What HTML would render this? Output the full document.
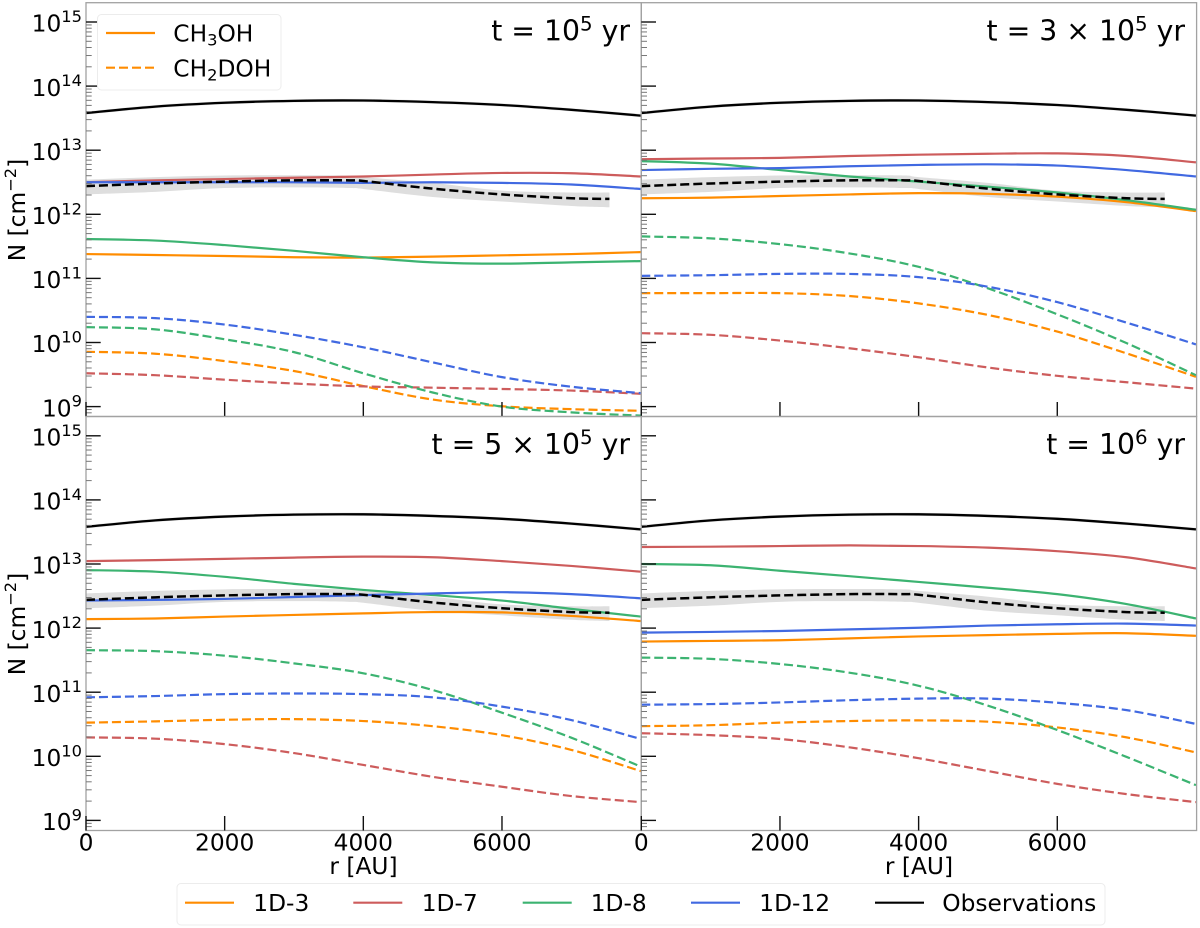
<!DOCTYPE html>
<html lang="en">
<head>
<meta charset="utf-8">
<title>Methanol column density profiles</title>
<style>
html,body{margin:0;padding:0;background:#fff;}
#chart{display:block;width:1200px;height:928px;font-family:"DejaVu Sans","Liberation Sans",sans-serif;fill:#000;filter:blur(0.35px);}
text{font-family:"DejaVu Sans","Liberation Sans",sans-serif;}
</style>
</head>
<body>
<svg id="chart" xmlns="http://www.w3.org/2000/svg" width="1200" height="928" viewBox="0 0 1200 928">
  <defs>
    <clipPath id="clip-a"><rect x="86" y="2.7" width="555.3" height="413.8"/></clipPath>
    <clipPath id="clip-b"><rect x="641.3" y="2.7" width="555.3" height="413.8"/></clipPath>
    <clipPath id="clip-c"><rect x="86" y="416.5" width="555.3" height="414"/></clipPath>
    <clipPath id="clip-d"><rect x="641.3" y="416.5" width="555.3" height="414"/></clipPath>
  </defs>
  <g id="panels"></g>

  <text transform="translate(25,210) rotate(-90)" text-anchor="middle" font-size="23.3">N [cm<tspan dy="-9" font-size="16.3">−2</tspan><tspan dy="9">]</tspan></text>
  <text transform="translate(25,624) rotate(-90)" text-anchor="middle" font-size="23.3">N [cm<tspan dy="-9" font-size="16.3">−2</tspan><tspan dy="9">]</tspan></text>
  <text x="363.5" y="874" text-anchor="middle" font-size="23.3">r [AU]</text>
  <text x="919" y="874" text-anchor="middle" font-size="23.3">r [AU]</text>

  <text x="630" y="40.7" text-anchor="end" font-size="28.3">t = 10<tspan dy="-10" font-size="19.8">5</tspan><tspan dy="10"> yr</tspan></text>
  <text x="1185" y="40.7" text-anchor="end" font-size="28.3">t = 3 × 10<tspan dy="-10" font-size="19.8">5</tspan><tspan dy="10"> yr</tspan></text>
  <text x="630" y="454" text-anchor="end" font-size="28.3">t = 5 × 10<tspan dy="-10" font-size="19.8">5</tspan><tspan dy="10"> yr</tspan></text>
  <text x="1185" y="454" text-anchor="end" font-size="28.3">t = 10<tspan dy="-10" font-size="19.8">6</tspan><tspan dy="10"> yr</tspan></text>

  <g>
    <rect x="97.5" y="14.5" width="183.5" height="75.5" rx="4" fill="#fff" stroke="#ececec" stroke-width="1"/>
    <line x1="106" y1="33" x2="155" y2="33" stroke="#FF8C00" stroke-width="2.2"/>
    <text x="173.3" y="41.7" font-size="23.3">CH<tspan dy="4" font-size="16.3">3</tspan><tspan dy="-4">OH</tspan></text>
    <line x1="106" y1="67.7" x2="155" y2="67.7" stroke="#FF8C00" stroke-width="2.2" stroke-dasharray="9 4"/>
    <text x="173.3" y="76.7" font-size="23.3">CH<tspan dy="4" font-size="16.3">2</tspan><tspan dy="-4">DOH</tspan></text>
  </g>

  <g>
    <rect x="177" y="883.5" width="928" height="41.5" rx="4" fill="#fff" stroke="#ececec" stroke-width="1"/>
    <line x1="185" y1="902.7" x2="234" y2="902.7" stroke="#FF8C00" stroke-width="2.2"/>
    <text x="253.3" y="911" font-size="23.3">1D-3</text>
    <line x1="353.3" y1="902.7" x2="402.3" y2="902.7" stroke="#CD5C5C" stroke-width="2.2"/>
    <text x="421.7" y="911" font-size="23.3">1D-7</text>
    <line x1="522.7" y1="902.7" x2="571.7" y2="902.7" stroke="#3CB371" stroke-width="2.2"/>
    <text x="590.7" y="911" font-size="23.3">1D-8</text>
    <line x1="691" y1="902.7" x2="740" y2="902.7" stroke="#4169E1" stroke-width="2.2"/>
    <text x="759.3" y="911" font-size="23.3">1D-12</text>
    <line x1="875" y1="902.7" x2="924" y2="902.7" stroke="#000" stroke-width="2.2"/>
    <text x="942.3" y="911" font-size="23.3">Observations</text>
  </g>
</svg>

<script>
// Radial sample positions (AU)
const radiusAU = [0, 1000, 2000, 3000, 4000, 5000, 6000, 7000, 8000];
const obsRadiusAU = [0, 1000, 2000, 3000, 3800, 4000, 5000, 6000, 7000, 7550];

// Axis ticks
const xTickValues = [0, 2000, 4000, 6000];
const yDecades = [9, 10, 11, 12, 13, 14, 15];
const yMinorMultipliers = [2, 3, 4, 5, 6, 7, 8, 9];

// Observations, log10 N
const obsCH3OH = [13.58, 13.68, 13.74, 13.77, 13.775, 13.75, 13.705, 13.63, 13.54];
const obsCH3OHUpper = [13.605, 13.705, 13.765, 13.795, 13.8, 13.775, 13.73, 13.655, 13.565];
const obsCH3OHLower = [13.555, 13.655, 13.715, 13.745, 13.75, 13.725, 13.68, 13.605, 13.515];
const obsCH2DOH = [12.44, 12.48, 12.51, 12.53, 12.53, 12.52, 12.40, 12.31, 12.25, 12.24];
const obsCH2DOHUpper = [12.54, 12.58, 12.605, 12.61, 12.605, 12.58, 12.49, 12.37, 12.34, 12.34];
const obsCH2DOHLower = [12.31, 12.35, 12.41, 12.42, 12.41, 12.395, 12.27, 12.20, 12.13, 12.11];

// t = 1e5 yr, log10 N
const t1e5CH3OH1D3 = [11.38, 11.365, 11.35, 11.33, 11.325, 11.34, 11.36, 11.38, 11.41];
const t1e5CH3OH1D7 = [12.50, 12.53, 12.55, 12.57, 12.59, 12.62, 12.645, 12.64, 12.59];
const t1e5CH3OH1D8 = [11.615, 11.59, 11.52, 11.43, 11.33, 11.25, 11.23, 11.25, 11.27];
const t1e5CH3OH1D12 = [12.50, 12.50, 12.50, 12.50, 12.49, 12.50, 12.49, 12.465, 12.395];
const t1e5CH2DOH1D3 = [9.855, 9.825, 9.71, 9.555, 9.32, 9.11, 9.005, 8.96, 8.935];
const t1e5CH2DOH1D7 = [9.52, 9.49, 9.42, 9.36, 9.315, 9.295, 9.275, 9.25, 9.20];
const t1e5CH2DOH1D8 = [10.24, 10.205, 10.05, 9.85, 9.52, 9.22, 9.00, 8.91, 8.86];
const t1e5CH2DOH1D12 = [10.40, 10.38, 10.28, 10.12, 9.925, 9.69, 9.46, 9.31, 9.21];

// t = 3e5 yr, log10 N
const t3e5CH3OH1D3 = [12.25, 12.26, 12.285, 12.31, 12.33, 12.32, 12.275, 12.19, 12.05];
const t3e5CH3OH1D7 = [12.86, 12.87, 12.88, 12.91, 12.93, 12.945, 12.95, 12.91, 12.81];
const t3e5CH3OH1D8 = [12.83, 12.79, 12.69, 12.59, 12.51, 12.43, 12.34, 12.22, 12.07];
const t3e5CH3OH1D12 = [12.69, 12.71, 12.72, 12.75, 12.77, 12.78, 12.76, 12.69, 12.59];
const t3e5CH2DOH1D3 = [10.77, 10.77, 10.77, 10.725, 10.61, 10.43, 10.17, 9.83, 9.465];
const t3e5CH2DOH1D7 = [10.145, 10.12, 10.03, 9.91, 9.77, 9.61, 9.48, 9.38, 9.28];
const t3e5CH2DOH1D8 = [11.655, 11.625, 11.535, 11.39, 11.18, 10.845, 10.44, 9.99, 9.49];
const t3e5CH2DOH1D12 = [11.04, 11.05, 11.07, 11.07, 11.02, 10.87, 10.63, 10.31, 9.97];

// t = 5e5 yr, log10 N
const t5e5CH3OH1D3 = [12.14, 12.15, 12.18, 12.205, 12.23, 12.25, 12.245, 12.19, 12.11];
const t5e5CH3OH1D7 = [13.045, 13.06, 13.08, 13.10, 13.115, 13.105, 13.045, 12.97, 12.88];
const t5e5CH3OH1D8 = [12.905, 12.88, 12.80, 12.69, 12.595, 12.515, 12.43, 12.30, 12.18];
const t5e5CH3OH1D12 = [12.43, 12.44, 12.455, 12.485, 12.515, 12.54, 12.56, 12.53, 12.465];
const t5e5CH2DOH1D3 = [10.525, 10.545, 10.57, 10.58, 10.55, 10.47, 10.33, 10.10, 9.77];
const t5e5CH2DOH1D7 = [10.295, 10.275, 10.19, 10.05, 9.865, 9.68, 9.525, 9.38, 9.285];
const t5e5CH2DOH1D8 = [11.655, 11.64, 11.57, 11.45, 11.295, 11.035, 10.68, 10.29, 9.84];
const t5e5CH2DOH1D12 = [10.92, 10.94, 10.97, 10.98, 10.97, 10.92, 10.775, 10.565, 10.27];

// t = 1e6 yr, log10 N
const t1e6CH3OH1D3 = [11.79, 11.80, 11.81, 11.84, 11.87, 11.89, 11.91, 11.92, 11.88];
const t1e6CH3OH1D7 = [13.265, 13.27, 13.28, 13.29, 13.28, 13.255, 13.20, 13.105, 12.93];
const t1e6CH3OH1D8 = [13.00, 12.98, 12.895, 12.81, 12.72, 12.63, 12.53, 12.375, 12.15];
const t1e6CH3OH1D12 = [11.93, 11.94, 11.955, 11.98, 12.005, 12.04, 12.06, 12.07, 12.04];
const t1e6CH2DOH1D3 = [10.47, 10.485, 10.525, 10.55, 10.56, 10.54, 10.45, 10.295, 10.06];
const t1e6CH2DOH1D7 = [10.36, 10.33, 10.27, 10.14, 9.97, 9.77, 9.57, 9.41, 9.285];
const t1e6CH2DOH1D8 = [11.54, 11.52, 11.44, 11.305, 11.10, 10.79, 10.41, 9.99, 9.55];
const t1e6CH2DOH1D12 = [10.805, 10.815, 10.84, 10.875, 10.90, 10.90, 10.835, 10.72, 10.505];

const modelColors = { '1d-3': '#FF8C00', '1d-7': '#CD5C5C', '1d-8': '#3CB371', '1d-12': '#4169E1' };

const panelSeries = [
  { id: 'a', left: 86, decade15: 22, top: 2.7, bottom: 416.5, showXLabels: false, showYLabels: true,
    solid: { '1d-3': t1e5CH3OH1D3, '1d-7': t1e5CH3OH1D7, '1d-8': t1e5CH3OH1D8, '1d-12': t1e5CH3OH1D12 },
    dashed: { '1d-3': t1e5CH2DOH1D3, '1d-7': t1e5CH2DOH1D7, '1d-8': t1e5CH2DOH1D8, '1d-12': t1e5CH2DOH1D12 } },
  { id: 'b', left: 641.3, decade15: 22, top: 2.7, bottom: 416.5, showXLabels: false, showYLabels: false,
    solid: { '1d-3': t3e5CH3OH1D3, '1d-7': t3e5CH3OH1D7, '1d-8': t3e5CH3OH1D8, '1d-12': t3e5CH3OH1D12 },
    dashed: { '1d-3': t3e5CH2DOH1D3, '1d-7': t3e5CH2DOH1D7, '1d-8': t3e5CH2DOH1D8, '1d-12': t3e5CH2DOH1D12 } },
  { id: 'c', left: 86, decade15: 435.8, top: 416.5, bottom: 830.5, showXLabels: true, showYLabels: true,
    solid: { '1d-3': t5e5CH3OH1D3, '1d-7': t5e5CH3OH1D7, '1d-8': t5e5CH3OH1D8, '1d-12': t5e5CH3OH1D12 },
    dashed: { '1d-3': t5e5CH2DOH1D3, '1d-7': t5e5CH2DOH1D7, '1d-8': t5e5CH2DOH1D8, '1d-12': t5e5CH2DOH1D12 } },
  { id: 'd', left: 641.3, decade15: 435.8, top: 416.5, bottom: 830.5, showXLabels: true, showYLabels: false,
    solid: { '1d-3': t1e6CH3OH1D3, '1d-7': t1e6CH3OH1D7, '1d-8': t1e6CH3OH1D8, '1d-12': t1e6CH3OH1D12 },
    dashed: { '1d-3': t1e6CH2DOH1D3, '1d-7': t1e6CH2DOH1D7, '1d-8': t1e6CH2DOH1D8, '1d-12': t1e6CH2DOH1D12 } }
];

const SVGNS = 'http://www.w3.org/2000/svg';
const PX_PER_AU = 0.06933;
const PX_PER_DECADE = 64.1;
const PANEL_WIDTH = 555.3;

function xScale(panel, r) { return panel.left + r * PX_PER_AU; }
function yScale(panel, logN) { return panel.decade15 + (15 - logN) * PX_PER_DECADE; }

function toPoints(panel, radii, values) {
  return radii.map(function (r, i) { return [xScale(panel, r), yScale(panel, values[i])]; });
}

function smoothSegments(pts) {
  let d = '';
  for (let i = 0; i < pts.length - 1; i++) {
    const p0 = pts[Math.max(i - 1, 0)], p1 = pts[i], p2 = pts[i + 1], p3 = pts[Math.min(i + 2, pts.length - 1)];
    const c1x = p1[0] + (p2[0] - p0[0]) / 6, c1y = p1[1] + (p2[1] - p0[1]) / 6;
    const c2x = p2[0] - (p3[0] - p1[0]) / 6, c2y = p2[1] - (p3[1] - p1[1]) / 6;
    d += ' C' + c1x.toFixed(2) + ' ' + c1y.toFixed(2) + ' ' + c2x.toFixed(2) + ' ' + c2y.toFixed(2) + ' ' + p2[0].toFixed(2) + ' ' + p2[1].toFixed(2);
  }
  return d;
}

function linePath(pts) {
  return 'M' + pts[0][0].toFixed(2) + ' ' + pts[0][1].toFixed(2) + smoothSegments(pts);
}

function bandPath(upperPts, lowerPts) {
  const rev = lowerPts.slice().reverse();
  return linePath(upperPts) + ' L' + rev[0][0].toFixed(2) + ' ' + rev[0][1].toFixed(2) + smoothSegments(rev) + ' Z';
}

function addLine(parent, x1, y1, x2, y2, stroke, width) {
  const el = document.createElementNS(SVGNS, 'line');
  el.setAttribute('x1', x1);
  el.setAttribute('y1', y1);
  el.setAttribute('x2', x2);
  el.setAttribute('y2', y2);
  el.setAttribute('stroke', stroke);
  el.setAttribute('stroke-width', width);
  parent.appendChild(el);
  return el;
}

function addPath(parent, d, fill, stroke, width, dash) {
  const el = document.createElementNS(SVGNS, 'path');
  el.setAttribute('d', d);
  el.setAttribute('fill', fill);
  el.setAttribute('stroke', stroke);
  el.setAttribute('stroke-width', width);
  if (dash) el.setAttribute('stroke-dasharray', dash);
  parent.appendChild(el);
  return el;
}

const root = document.getElementById('panels');

panelSeries.forEach(function (panel) {
  const g = document.createElementNS(SVGNS, 'g');
  
  
  root.appendChild(g);

  const plot = document.createElementNS(SVGNS, 'g');
  plot.setAttribute('clip-path', 'url(#clip-' + panel.id + ')');
  
  
  g.appendChild(plot);

  // Observation uncertainty bands
  const band1 = addPath(plot, bandPath(toPoints(panel, radiusAU, obsCH3OHUpper), toPoints(panel, radiusAU, obsCH3OHLower)), '#e4e4e4', 'none', 0);
  
  
  const band2 = addPath(plot, bandPath(toPoints(panel, obsRadiusAU, obsCH2DOHUpper), toPoints(panel, obsRadiusAU, obsCH2DOHLower)), '#dedede', 'none', 0);
  
  

  // Model lines: CH2DOH dashed, CH3OH solid
  Object.keys(panel.dashed).forEach(function (model) {
    const dashedLine = addPath(plot, linePath(toPoints(panel, radiusAU, panel.dashed[model])), 'none', modelColors[model], 2.2, '9 4');
    
    
  });
  Object.keys(panel.solid).forEach(function (model) {
    const solidLine = addPath(plot, linePath(toPoints(panel, radiusAU, panel.solid[model])), 'none', modelColors[model], 2.2);
    
    
  });

  // Observation lines
  const obsSolid = addPath(plot, linePath(toPoints(panel, radiusAU, obsCH3OH)), 'none', '#000', 2.3);
  
  
  const obsDashed = addPath(plot, linePath(toPoints(panel, obsRadiusAU, obsCH2DOH)), 'none', '#000', 2.5, '9 4');
  
  

  // Frame
  const frame = document.createElementNS(SVGNS, 'rect');
  frame.setAttribute('x', panel.left);
  frame.setAttribute('y', panel.top);
  frame.setAttribute('width', PANEL_WIDTH);
  frame.setAttribute('height', panel.bottom - panel.top);
  frame.setAttribute('fill', 'none');
  frame.setAttribute('stroke', '#a2a2a2');
  frame.setAttribute('stroke-width', '1.3');
  
  
  g.appendChild(frame);

  // Y ticks
  yDecades.forEach(function (decade) {
    const y = yScale(panel, decade);
    const major = addLine(g, panel.left, y, panel.left + 14.7, y, '#111', 1.4);
    
    

    if (panel.showYLabels) {
      const label = document.createElementNS(SVGNS, 'text');
      label.setAttribute('x', 82);
      label.setAttribute('y', y + 9.7);
      label.setAttribute('text-anchor', 'end');
      label.setAttribute('font-size', '23.3');
      
      
      label.textContent = '10';
      const sup = document.createElementNS(SVGNS, 'tspan');
      sup.setAttribute('dy', '-9.7');
      sup.setAttribute('font-size', '16.3');
      sup.textContent = String(decade);
      label.appendChild(sup);
      g.appendChild(label);
    }
  });
  const minorDecades = [8].concat(yDecades);
  minorDecades.forEach(function (decade) {
    yMinorMultipliers.forEach(function (m) {
      const value = decade + Math.log10(m);
      const y = yScale(panel, value);
      if (y < panel.top + 0.5 || y > panel.bottom - 0.5) return;
      const minor = addLine(g, panel.left, y, panel.left + 5.7, y, '#777', 1);
      
      
    });
  });

  // X ticks
  xTickValues.forEach(function (r) {
    const x = xScale(panel, r);
    const tick = addLine(g, x, panel.bottom, x, panel.bottom - 14.5, '#111', 1.4);
    
    
    if (panel.showXLabels) {
      const label = document.createElementNS(SVGNS, 'text');
      label.setAttribute('x', x);
      label.setAttribute('y', 850.7);
      label.setAttribute('text-anchor', 'middle');
      label.setAttribute('font-size', '23.3');
      
      
      label.textContent = String(r);
      g.appendChild(label);
    }
  });
});
</script>
</body>
</html>
